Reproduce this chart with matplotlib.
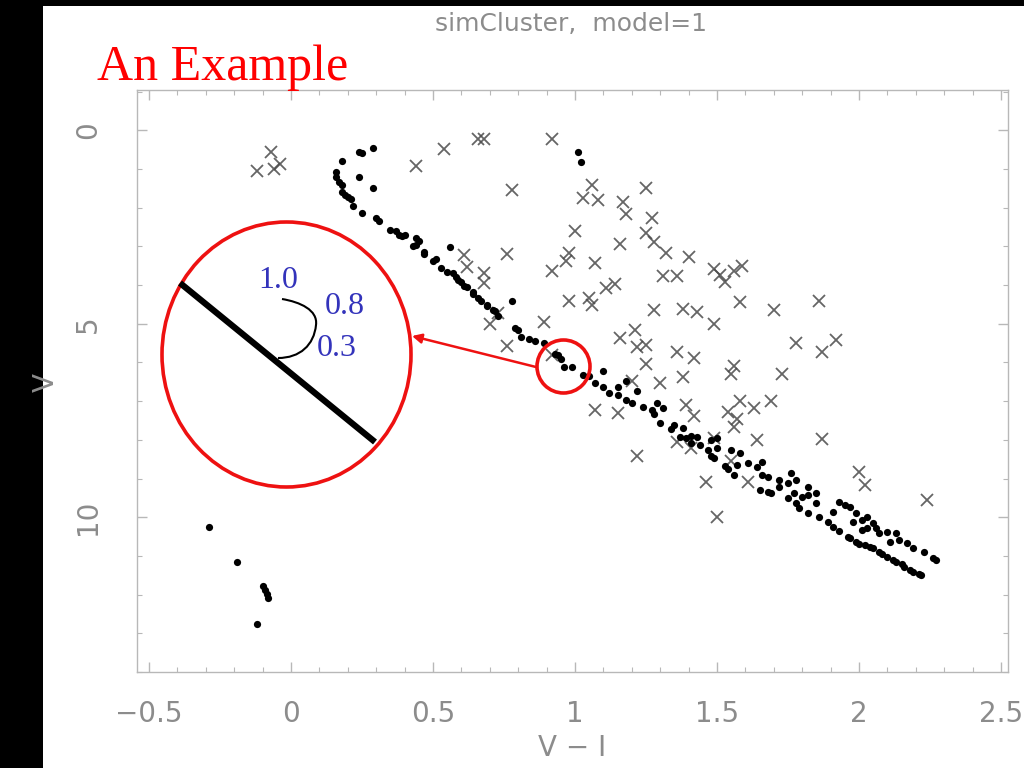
import numpy as np
import matplotlib
matplotlib.use("Agg")
import matplotlib.pyplot as plt
from matplotlib.patches import Ellipse, Rectangle, FancyArrowPatch, PathPatch
from matplotlib.path import Path
from matplotlib.ticker import MultipleLocator

# cluster members (dots): V-I colour, V magnitude
dots = [
    (0.29, 0.47), (0.24, 0.57), (0.25, 0.60), (0.18, 0.80), (0.16, 1.08),
    (0.24, 1.22), (0.16, 1.22), (0.17, 1.34), (0.18, 1.42), (0.29, 1.50),
    (0.18, 1.60), (0.20, 1.73), (0.19, 1.68), (0.21, 1.78), (0.22, 1.96),
    (0.25, 2.14), (0.31, 2.35), (0.30, 2.27), (0.35, 2.58), (0.37, 2.61),
    (0.38, 2.71), (0.39, 2.74), (0.40, 2.71), (0.44, 2.79), (0.44, 2.97),
    (0.43, 3.00), (0.45, 2.87), (0.47, 3.15), (0.47, 3.20), (0.51, 3.33),
    (0.50, 3.38), (0.56, 3.02), (0.53, 3.57), (0.55, 3.66), (0.57, 3.70),
    (0.58, 3.80), (0.59, 3.88), (0.60, 3.93), (0.61, 4.03), (0.62, 4.05),
    (0.64, 4.19), (0.64, 4.24), (0.66, 4.34), (0.67, 4.40), (0.69, 4.52),
    (0.69, 4.55), (0.71, 4.65), (0.72, 4.67), (0.73, 4.81), (0.78, 4.42),
    (0.79, 5.12), (0.80, 5.17), (0.81, 5.35), (0.84, 5.40), (0.86, 5.45),
    (0.89, 5.50), (0.93, 5.79), (0.94, 5.81), (0.95, 5.92), (0.96, 6.12),
    (0.99, 6.12), (1.03, 6.33), (1.05, 6.36), (1.10, 6.23), (1.07, 6.54),
    (1.10, 6.64), (1.12, 6.80), (1.15, 6.64), (1.18, 6.49), (1.15, 6.85),
    (1.22, 6.74), (1.18, 6.98), (1.20, 7.05), (1.24, 7.16), (1.27, 7.24),
    (1.28, 7.34), (1.29, 7.05), (1.31, 7.18), (1.30, 7.57), (1.34, 7.73),
    (1.35, 7.62), (1.38, 7.70), (1.37, 7.93), (1.39, 7.96), (1.41, 7.91),
    (1.43, 7.93), (1.41, 8.09), (1.44, 8.14), (1.47, 8.27), (1.48, 8.01),
    (1.50, 7.96), (1.48, 8.42), (1.50, 8.22), (1.49, 8.48), (1.55, 8.27),
    (1.53, 8.68), (1.54, 8.76), (1.56, 8.91), (1.57, 8.66), (1.58, 8.35),
    (1.61, 8.61), (1.64, 8.71), (1.66, 8.58), (1.66, 8.91), (1.68, 8.97),
    (1.65, 9.30), (1.68, 9.35), (1.69, 9.38), (1.72, 9.04), (1.72, 9.22),
    (1.75, 9.12), (1.76, 8.86), (1.77, 9.38), (1.78, 9.04), (1.75, 9.51),
    (1.78, 9.64), (1.79, 9.77), (1.80, 9.48), (1.82, 9.22), (1.82, 9.43),
    (1.85, 9.38), (1.85, 9.64), (1.82, 9.90), (1.86, 10.00), (1.89, 10.13),
    (1.91, 10.26), (1.93, 10.36), (1.91, 9.87), (1.93, 9.61), (1.95, 9.69),
    (1.97, 9.74), (1.98, 10.13), (1.99, 9.90), (2.01, 10.08), (1.97, 10.54),
    (1.99, 10.65), (2.02, 10.72), (2.05, 10.80), (2.07, 10.90), (2.10, 11.03),
    (2.13, 11.16), (2.16, 11.29), (2.19, 11.42), (2.22, 11.50), (2.03, 10.00),
    (2.05, 10.16), (2.06, 10.28), (2.07, 10.41), (2.03, 10.28), (2.01, 10.34),
    (2.10, 10.39), (2.13, 10.41), (2.14, 10.59), (2.11, 10.65), (2.17, 10.67),
    (2.19, 10.80), (2.23, 10.90), (2.26, 11.06), (2.27, 11.11), (1.96, 10.50),
    (2.00, 10.68), (2.04, 10.76), (2.08, 10.94), (2.12, 11.10), (2.15, 11.22),
    (2.18, 11.36), (2.21, 11.46), (1.01, 0.57), (1.02, 0.83),
    (-0.29, 10.26), (-0.19, 11.16), (-0.10, 11.78), (-0.09, 11.89),
    (-0.085, 11.98), (-0.08, 12.09), (-0.12, 12.76),
]
dot_x = [p[0] for p in dots]
dot_y = [p[1] for p in dots]

# field stars (crosses)
field = [
    (-0.07, 0.57), (-0.12, 1.06), (-0.06, 1.01), (-0.04, 0.88),
    (0.44, 0.93), (0.54, 0.49), (0.66, 0.23), (0.68, 0.23),
    (0.92, 0.23), (0.78, 1.55), (1.06, 1.42), (1.03, 1.76), (1.08, 1.81),
    (1.25, 1.50), (1.17, 1.86), (1.18, 2.17), (1.27, 2.27), (1.00, 2.61),
    (1.25, 2.66), (1.28, 2.89), (1.16, 2.95), (0.76, 3.20), (0.98, 3.18),
    (0.97, 3.38), (1.07, 3.44), (0.92, 3.64), (1.32, 3.18), (1.40, 3.28),
    (1.31, 3.77), (1.36, 3.77), (1.49, 3.59), (1.51, 3.75), (1.53, 3.93),
    (1.56, 3.64), (1.59, 3.51), (1.11, 4.08), (1.14, 3.98), (0.98, 4.42),
    (1.05, 4.34), (1.06, 4.52), (1.28, 4.65), (1.38, 4.63), (1.43, 4.70),
    (1.58, 4.44), (1.70, 4.65), (1.49, 5.01), (0.89, 4.96), (0.76, 5.58),
    (1.16, 5.37), (1.21, 5.17), (1.22, 5.61), (1.25, 5.56), (1.25, 6.05),
    (1.36, 5.74), (1.42, 5.89), (1.56, 6.10), (1.55, 6.30), (1.73, 6.30),
    (1.78, 5.50), (1.38, 6.38), (1.30, 6.54), (1.20, 6.49), (1.86, 4.42),
    (1.92, 5.43), (1.87, 5.74), (1.07, 7.24), (1.15, 7.31), (1.39, 7.11),
    (1.42, 7.39), (1.54, 7.29), (1.58, 7.00), (1.63, 7.18), (1.69, 7.00),
    (1.57, 7.47), (1.56, 7.67), (1.36, 8.06), (1.41, 8.22), (1.49, 7.96),
    (1.64, 8.01), (1.87, 7.98), (1.22, 8.42), (1.55, 8.55), (1.46, 9.10),
    (1.61, 9.10), (2.00, 8.84), (2.02, 9.17), (2.24, 9.56), (1.50, 10.00),
    (0.61, 3.23), (0.62, 3.54), (0.68, 3.70), (0.68, 3.95), (0.73, 4.73),
    (0.70, 5.01), (0.92, 5.81),
]
field_x = [p[0] for p in field]
field_y = [p[1] for p in field]

x_ticks = [-0.5, 0, 0.5, 1, 1.5, 2, 2.5]
x_ticklabels = ["\u22120.5", "0", "0.5", "1", "1.5", "2", "2.5"]
y_ticks = [0, 5, 10]
y_ticklabels = ["0", "5", "10"]

W, H = 1024, 768
fig = plt.figure(figsize=(W / 100, H / 100), dpi=100)
fig.patch.set_facecolor("white")

ax = fig.add_axes([137 / W, 1 - 672 / H, (1008 - 137) / W, (672 - 90) / H])
ax.plot(field_x, field_y, "x", color="#4a4a4a", ms=8.5, mew=1.3, alpha=0.85)
ax.plot(dot_x, dot_y, "o", color="black", ms=5.2, mew=0)
ax.set_xlim(-0.542, 2.525)
ax.set_ylim(14.0, -1.04)

gray = "#8c8c8c"
for s in ax.spines.values():
    s.set_color("#b8b8b8")
    s.set_linewidth(1.0)
ax.xaxis.set_major_locator(MultipleLocator(0.5))
ax.xaxis.set_minor_locator(MultipleLocator(0.1))
ax.yaxis.set_major_locator(MultipleLocator(5))
ax.yaxis.set_minor_locator(MultipleLocator(1))
ax.set_xticks(x_ticks)
ax.set_xticklabels(x_ticklabels)
ax.set_yticks(y_ticks)
ax.set_yticklabels(y_ticklabels)
ax.tick_params(which="both", direction="in", top=True, right=True, color="#b8b8b8")
ax.tick_params(which="major", length=7, width=1)
ax.tick_params(which="minor", length=3.5, width=0.8)
ax.tick_params(axis="x", which="major", labelsize=20, labelcolor=gray, pad=20)
ax.tick_params(axis="y", which="major", labelsize=20, labelcolor=gray, pad=25, labelrotation=90)
for lab in ax.get_yticklabels():
    lab.set_va("center")

ax.set_xlabel("V \u2212 I", fontsize=20, color=gray)
ax.xaxis.set_label_coords(0.4995, -0.13)
ax.xaxis.label.set_va("center")

# overlay in pixel units for the slide decorations
ov = fig.add_axes([0, 0, 1, 1], zorder=5)
ov.set_xlim(0, W)
ov.set_ylim(H, 0)
ov.axis("off")
ov.patch.set_alpha(0)

ov.add_patch(Rectangle((0, 0), 43, H, color="black", lw=0))
ov.add_patch(Rectangle((0, 0), W, 6, color="black", lw=0))

# y label sits over the slide edge
ov.text(46, 382, "V", fontsize=20, color=gray, rotation=90, ha="center", va="center")

ov.text(571, 24, "simCluster,  model=1", fontsize=18, color=gray, ha="center", va="center")
ov.text(97, 80, "An Example", fontsize=36, color="red", family="Liberation Serif",
        ha="left", va="baseline")

red = "#ee1111"
ov.add_patch(Ellipse((286.5, 354.5), 249, 265, fill=False, ec=red, lw=2.6))
ov.add_patch(Ellipse((563.5, 366.5), 53, 53, fill=False, ec=red, lw=2.6))
ov.plot([180, 375], [283, 442], color="black", lw=4.5, solid_capstyle="butt")
ov.add_patch(FancyArrowPatch((536, 367), (412, 336), arrowstyle="-|>", mutation_scale=14,
                             color=red, lw=1.8, shrinkA=0, shrinkB=0))

curve = Path([(282, 299), (300, 302), (318, 310), (316, 325),
              (314, 345), (300, 358), (278, 358)],
             [Path.MOVETO, Path.CURVE4, Path.CURVE4, Path.CURVE4,
              Path.CURVE4, Path.CURVE4, Path.CURVE4])
ov.add_patch(PathPatch(curve, fill=False, ec="black", lw=1.5))

blue = "#3333bb"
for txt, px, py in [("1.0", 278, 281), ("0.8", 345, 306), ("0.3", 337, 349)]:
    ov.text(px, py, txt, fontsize=23, color=blue, family="Liberation Serif",
            ha="center", va="center")

fig.savefig("out.png", dpi=100, facecolor=fig.get_facecolor())
